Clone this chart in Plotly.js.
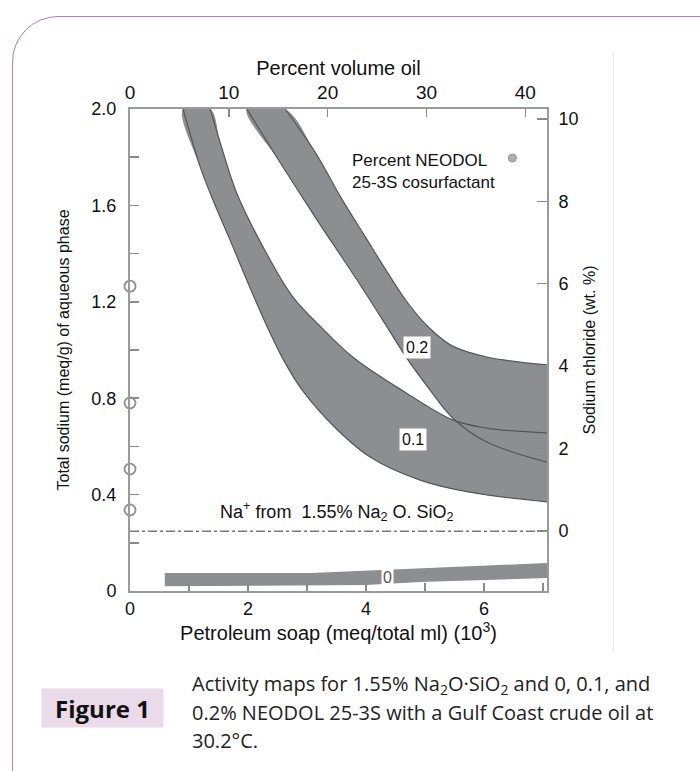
<!DOCTYPE html>
<html><head><meta charset="utf-8">
<script src="https://cdn.plot.ly/plotly-3.0.1.min.js"></script>
<style>
html,body{margin:0;padding:0;background:#fff;overflow:hidden;width:700px;height:771px;}
#frame{position:absolute;left:12px;top:16px;width:740px;height:800px;border:1.5px solid #b47cb8;border-radius:46px;box-sizing:border-box;}
#sep{position:absolute;left:613px;top:52px;width:1px;height:600px;background:#ececec;}
#chart{position:absolute;left:0;top:0;width:700px;height:771px;}
</style></head><body>
<div id="frame"></div><div id="sep"></div><div id="chart"></div>
<script>
// Band for 0.1% NEODOL (soap meq/total ml x10^3 vs total sodium meq/g)
const band01OuterX = [0.90,1.19,1.41,1.69,1.98,2.32,2.60,2.93,3.51,4.07,4.92,5.76,7.07];
const band01OuterY = [2.00,1.76,1.62,1.46,1.29,1.10,0.96,0.83,0.67,0.556,0.46,0.41,0.37];
const band01InnerX = [1.36,1.53,1.81,2.25,2.75,3.22,3.78,4.63,5.47,6.05,7.07];
const band01InnerY = [2.00,1.86,1.65,1.43,1.224,1.10,0.97,0.83,0.71,0.676,0.656];
// Band for 0.2% NEODOL
const band02LowerX = [1.98,2.54,3.17,3.59,3.97,4.36,4.69,5.05,5.47,6.05,7.07];
const band02LowerY = [2.00,1.78,1.54,1.386,1.245,1.095,0.967,0.846,0.718,0.618,0.535];
const band02UpperX = [2.63,3.14,3.59,4.00,4.37,4.71,5.08,5.47,6.05,7.07];
const band02UpperY = [2.00,1.82,1.627,1.465,1.32,1.195,1.09,1.016,0.971,0.938];
// Band for 0% NEODOL
const band0TopX = [0.59,3.07,4.00,4.92,7.07];
const band0TopY = [0.075,0.075,0.083,0.095,0.116];
const band0BotX = [0.59,4.00,4.92,7.07];
const band0BotY = [0.020,0.025,0.037,0.054];
// Na+ from silicate level
const naLevelX = [0, 7.07];
const naLevelY = [0.248, 0.248];
// open circles on the left axis
const circleX = [0,0,0,0];
const circleY = [1.265,0.78,0.506,0.336];
// legend dot (top/right axes)
const dotX = [38.7];
const dotY = [9.05];
// axis ticks
const soapTicks = [0,2,4,6];
const sodiumTicks = [0,0.4,0.8,1.2,1.6,2.0];
const sodiumLabels = ['0','0.4','0.8','1.2','1.6','2.0'];
const oilTicks = [0,10,20,30,40];
const naclTicks = [0,2,4,6,8,10];

const FILL = '#8d8e92';
const EDGE = '#55565a';
const FONT = 'Liberation Sans, Arial, sans-serif';
const CAP = 'Open Sans, sans-serif';

// polygon that starts at the right end of edge b, runs back along b, then out along a;
// the closing (straight) segment is at the right side
function poly(ax, ay, bx, by){
  return {x: bx.slice().reverse().concat(ax), y: by.slice().reverse().concat(ay)};
}
const p01 = poly(band01OuterX, band01OuterY, band01InnerX, band01InnerY);
const p02 = poly(band02LowerX, band02LowerY, band02UpperX, band02UpperY);
const p0 = poly(band0BotX, band0BotY, band0TopX, band0TopY);

function fillTrace(p, shape){
  return {x:p.x, y:p.y, mode:'lines', fill:'toself', fillcolor:FILL,
    line:{width:0, shape:shape, smoothing:1, color:FILL}, hoverinfo:'skip', showlegend:false};
}
function edgeTrace(x, y, shape, w){
  return {x:x, y:y, mode:'lines', line:{width:w||1.2, color:EDGE, shape:shape, smoothing:1},
    hoverinfo:'skip', showlegend:false};
}

const traces = [
  fillTrace(p01,'spline'),
  fillTrace(p02,'spline'),
  fillTrace(p0,'linear'),
  edgeTrace(band01OuterX, band01OuterY, 'spline'),
  edgeTrace(band01InnerX, band01InnerY, 'spline'),
  edgeTrace(band02LowerX, band02LowerY, 'spline'),
  edgeTrace(band02UpperX, band02UpperY, 'spline'),
  {x:naLevelX, y:naLevelY, mode:'lines', line:{color:'#7a7a7a', width:1.3, dash:'dashdot'}, hoverinfo:'skip', showlegend:false},
  {x:circleX, y:circleY, mode:'markers', cliponaxis:false,
    marker:{symbol:'circle', size:11, color:'#ffffff', line:{color:'#8e8e8e', width:1.8}}, hoverinfo:'skip', showlegend:false},
  {x:dotX, y:dotY, xaxis:'x2', yaxis:'y2', mode:'markers', cliponaxis:false,
    marker:{symbol:'circle', size:8, color:'#b0b0b0', line:{color:'#909090', width:1}}, hoverinfo:'skip', showlegend:false}
];

const axisLine = {showline:true, linecolor:'#9b9b9b', linewidth:2, showgrid:false, zeroline:false,
  tickcolor:'#8a8a8a', tickwidth:1.5, fixedrange:true};

const layout = {
  width:700, height:771,
  margin:{l:130, r:153, t:109, b:180},
  paper_bgcolor:'rgba(0,0,0,0)', plot_bgcolor:'#ffffff',
  font:{family:FONT, color:'#111', size:18},
  showlegend:false,
  xaxis: Object.assign({}, axisLine, {
    range:[0,7.07], tickmode:'array', tickvals:soapTicks, ticks:'inside', ticklen:8,
    minor:{tickmode:'linear', tick0:0, dtick:1, ticks:'inside', ticklen:8, tickcolor:'#8a8a8a', tickwidth:1.5},
    tickfont:{size:18, family:FONT, color:'#111'}, ticklabelstandoff:0,
    title:{text:'Petroleum soap (meq/total ml) (10<sup>3</sup>)', font:{size:20, family:FONT, color:'#111'}, standoff:8}
  }),
  yaxis: Object.assign({}, axisLine, {
    range:[0,2.0], tickmode:'array', tickvals:sodiumTicks, ticktext:sodiumLabels, ticks:'inside', ticklen:3,
    minor:{tickmode:'linear', tick0:0, dtick:0.2, ticks:'inside', ticklen:9, tickcolor:'#8a8a8a', tickwidth:1.5},
    tickfont:{size:18, family:FONT, color:'#111'}, ticklabelstandoff:8,
    title:{text:'Total sodium (meq/g) of aqueous phase', font:{size:16, family:FONT, color:'#111'}, standoff:18}
  }),
  xaxis2: Object.assign({}, axisLine, {
    overlaying:'x', side:'top', anchor:'y', range:[0,42.2], tickmode:'array', tickvals:oilTicks,
    ticks:'inside', ticklen:8, tickfont:{size:19, family:FONT, color:'#111'}, ticklabelstandoff:0,
    title:{text:'Percent volume oil', font:{size:20, family:FONT, color:'#111'}, standoff:1}
  }),
  yaxis2: Object.assign({}, axisLine, {
    overlaying:'y', side:'right', anchor:'x', range:[-1.46,10.24], tickmode:'array', tickvals:naclTicks,
    ticks:'inside', ticklen:10, tickfont:{size:18, family:FONT, color:'#111'}, ticklabelstandoff:6,
    title:{text:'Sodium chloride (wt. %)', font:{size:16, family:FONT, color:'#111'}, standoff:6}
  }),
  annotations: [
    {x:4.86, y:1.01, text:'0.2', showarrow:false, bgcolor:'#ffffff', borderpad:2, font:{size:16, family:FONT, color:'#111'}},
    {x:4.80, y:0.627, text:'0.1', showarrow:false, bgcolor:'#ffffff', borderpad:2, font:{size:16, family:FONT, color:'#111'}},
    {x:4.36, y:0.054, text:'0', showarrow:false, bgcolor:'#ffffff', borderpad:1, font:{size:16, family:FONT, color:'#555'}},
    {x:3.50, y:0.328, text:'Na<sup>+</sup> from  1.55% Na<sub>2</sub> O. SiO<sub>2</sub>', showarrow:false,
      font:{size:18, family:FONT, color:'#111'}},
    {x:3.73, y:1.74, xanchor:'left', align:'left', text:'Percent NEODOL<br>25-3S cosurfactant', showarrow:false,
      font:{size:17, family:FONT, color:'#111'}},
    // caption
    {xref:'paper', yref:'paper', x:(102-130)/417, y:(591-708)/482, xanchor:'center', yanchor:'middle',
      width:121, height:38, bgcolor:'#e9dbea', borderpad:0, showarrow:false,
      text:'<b>Figure 1</b>', font:{size:24, family:CAP, color:'#111'}},
    {xref:'paper', yref:'paper', x:(190-130)/417, y:(591-684)/482, xanchor:'left', yanchor:'middle', showarrow:false,
      text:'Activity maps for 1.55% Na<sub>2</sub>O·SiO<sub>2</sub> and 0, 0.1, and', font:{size:20, family:CAP, color:'#222'}},
    {xref:'paper', yref:'paper', x:(190-130)/417, y:(591-712)/482, xanchor:'left', yanchor:'middle', showarrow:false,
      text:'0.2% NEODOL 25-3S with a Gulf Coast crude oil at', font:{size:20, family:CAP, color:'#222'}},
    {xref:'paper', yref:'paper', x:(190-130)/417, y:(591-740)/482, xanchor:'left', yanchor:'middle', showarrow:false,
      text:'30.2°C.', font:{size:20, family:CAP, color:'#222'}}
  ]
};

Plotly.newPlot('chart', traces, layout, {staticPlot:true, displayModeBar:false});
</script></body></html>
